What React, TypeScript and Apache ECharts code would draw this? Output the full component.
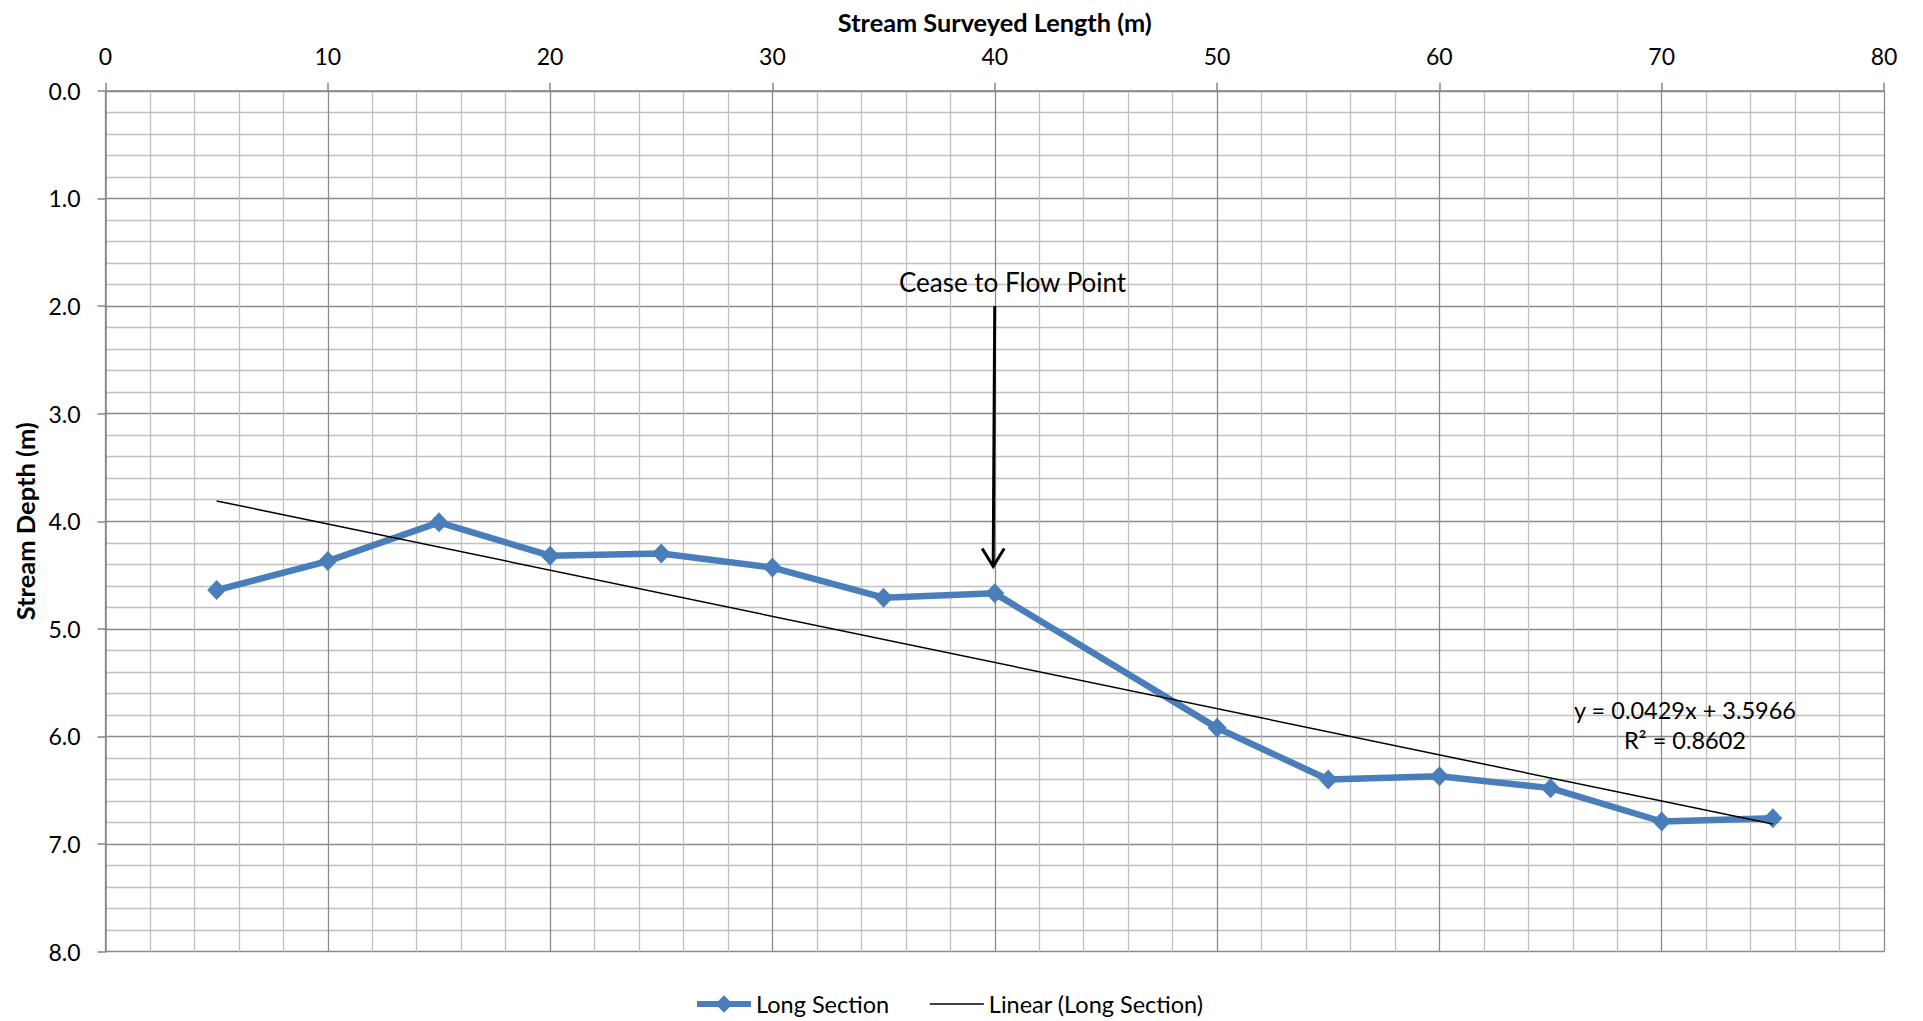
import React, { useEffect, useRef } from "react";
import * as echarts from "echarts";

// ---- data ----
const lengthValues = [5, 10, 15, 20, 25, 30, 35, 40, 50, 55, 60, 65, 70, 75];
const depthValues = [4.64, 4.37, 4.01, 4.32, 4.3, 4.43, 4.71, 4.67, 5.92, 6.4, 6.37, 6.48, 6.79, 6.76];
const trendSlope = 0.0429;
const trendIntercept = 3.5966;
const trendRangeX = [5, 75];
const xTicks = { min: 0, max: 80, interval: 10 };
const yTicks = { min: 0, max: 8, interval: 1 };
const seriesNames = ["Long Section", "Linear (Long Section)"];
const equationText = "y = 0.0429x + 3.5966";
const r2Text = "R² = 0.8602";
const annotationText = "Cease to Flow Point";
const annotationX = 40;

const FONT = "Lato, 'Open Sans', sans-serif";
const BLUE = "#4A7EBB";

export default function App() {
  const ref = useRef<HTMLDivElement>(null);

  useEffect(() => {
    if (!ref.current) return;
    const chart = echarts.init(ref.current, null, { renderer: "svg" });

    const grid = { left: 105.5, top: 90.8, width: 1778.5, height: 860.9 };

    const option: any = {
      animation: false,
      backgroundColor: "#ffffff",
      textStyle: { fontFamily: FONT },
      grid,
      legend: {
        data: [
          { name: seriesNames[0], lineStyle: { width: 6, color: BLUE } },
          {
            name: seriesNames[1],
            lineStyle: { width: 1.5, color: "#000" },
            itemStyle: { opacity: 0, color: "rgba(0,0,0,0)", borderWidth: 0 },
          },
        ],
        left: 689,
        top: 987,
        itemWidth: 54,
        itemHeight: 22,
        itemGap: 40,
        textStyle: { fontFamily: FONT, fontSize: 23.5, color: "#000" },
      },
      xAxis: {
        type: "value",
        position: "top",
        min: xTicks.min,
        max: xTicks.max,
        interval: xTicks.interval,
        axisLine: { show: true, lineStyle: { color: "#868686", width: 1.5 } },
        axisTick: { show: true, length: 8, lineStyle: { color: "#868686", width: 1.5 } },
        axisLabel: { margin: 23, fontFamily: FONT, fontSize: 23, color: "#000" },
        splitLine: { show: true, lineStyle: { color: "#8a8a8a", width: 1.3 } },
        minorTick: { show: false, splitNumber: 5 },
        minorSplitLine: { show: true, lineStyle: { color: "#c0c0c0", width: 1.3 } },
      },
      yAxis: {
        type: "value",
        inverse: true,
        min: yTicks.min,
        max: yTicks.max,
        interval: yTicks.interval,
        axisLine: { show: true, lineStyle: { color: "#868686", width: 1.5 } },
        axisTick: { show: true, length: 8, lineStyle: { color: "#868686", width: 1.5 } },
        axisLabel: {
          margin: 25,
          fontFamily: FONT,
          fontSize: 23,
          color: "#000",
          formatter: (v: number) => v.toFixed(1),
        },
        splitLine: { show: true, lineStyle: { color: "#8a8a8a", width: 1.3 } },
        minorTick: { show: false, splitNumber: 5 },
        minorSplitLine: { show: true, lineStyle: { color: "#c0c0c0", width: 1.3 } },
      },
      series: [
        {
          name: seriesNames[0],
          type: "line",
          data: lengthValues.map((x, i) => [x, depthValues[i]]),
          symbol: "diamond",
          symbolSize: [19, 20],
          lineStyle: { color: BLUE, width: 6.5 },
          itemStyle: { color: BLUE },
          z: 2,
        },
        {
          name: seriesNames[1],
          type: "line",
          data: trendRangeX.map((x) => [x, trendSlope * x + trendIntercept]),
          symbol: "none",
          lineStyle: { color: "#000", width: 1.5 },
          itemStyle: { color: "#000" },
          z: 3,
        },
      ],
    };
    chart.setOption(option);

    const px = (x: number, y: number) => chart.convertToPixel({ gridIndex: 0 }, [x, y]) as number[];
    const arrowTop = px(annotationX, 2.0);
    const arrowTip = px(annotationX - 0.07, 4.42);
    const labelPos = px(annotationX + 0.8, 1.774);
    const eqPos = px(71.05, 5.75);
    const r2Pos = px(71.05, 6.03);

    const txt = (x: number, y: number, text: string, size: number, bold = false) => ({
      type: "text",
      x,
      y,
      z: 10,
      style: {
        text,
        fill: "#000",
        fontFamily: FONT,
        fontSize: size,
        fontWeight: bold ? "bold" : "normal",
        align: "center",
        verticalAlign: "middle",
        textAlign: "center",
        textVerticalAlign: "middle",
      },
    });

    chart.setOption({
      graphic: [
        txt(grid.left + grid.width / 2, 21.7, "Stream Surveyed Length (m)", 25.3, true),
        {
          ...txt(25, grid.top + grid.height / 2, "Stream Depth (m)", 25.5, true),
          rotation: Math.PI / 2,
        },
        txt(labelPos[0], labelPos[1], annotationText, 26),
        txt(eqPos[0], eqPos[1], equationText, 23.5),
        txt(r2Pos[0], r2Pos[1], r2Text, 23.5),
        {
          type: "line",
          z: 10,
          shape: { x1: arrowTop[0], y1: arrowTop[1], x2: arrowTip[0], y2: arrowTip[1] },
          style: { stroke: "#000", lineWidth: 3 },
        },
        {
          type: "polyline",
          z: 10,
          shape: {
            points: [
              [arrowTip[0] - 11, arrowTip[1] - 18],
              [arrowTip[0], arrowTip[1]],
              [arrowTip[0] + 11, arrowTip[1] - 18],
            ],
          },
          style: { stroke: "#000", lineWidth: 3, fill: "none" },
        },
      ],
    });

    return () => chart.dispose();
  }, []);

  return (
    <div
      ref={ref}
      style={{ position: "fixed", left: 0, top: 0, width: 1923, height: 1021 }}
    />
  );
}
